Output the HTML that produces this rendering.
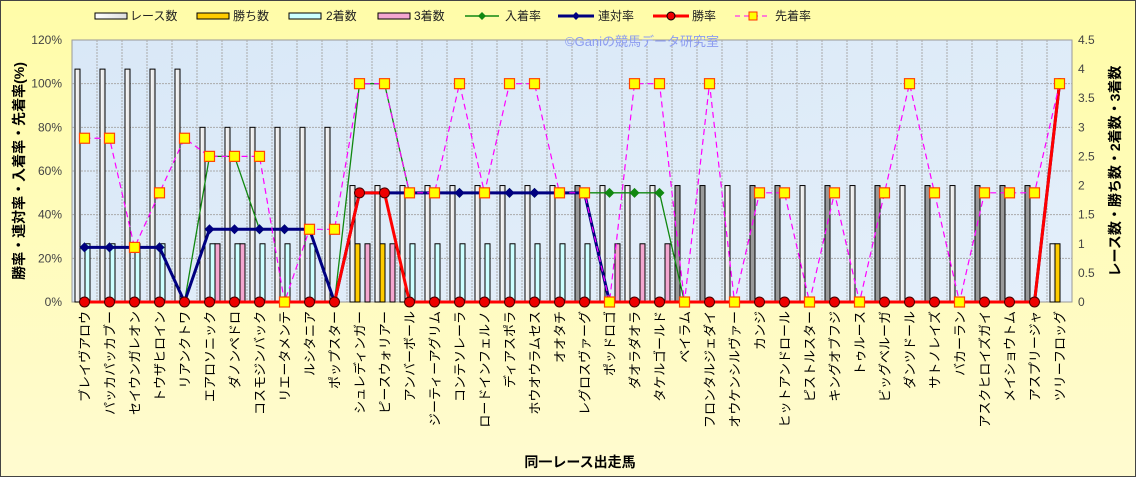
<!DOCTYPE html><html><head><meta charset="utf-8"><style>
html,body{margin:0;padding:0;background:#fff}
svg{display:block;font-family:"Liberation Sans","Noto Sans CJK JP",sans-serif}
</style></head><body>
<svg id="c" width="1136" height="477" xmlns="http://www.w3.org/2000/svg">
<defs>
<linearGradient id="bgY" x1="0" y1="0" x2="0" y2="1"><stop offset="0" stop-color="#fffca8"/><stop offset="1" stop-color="#fffbd0"/></linearGradient>
<linearGradient id="rb" x1="0" y1="0" x2="1" y2="0"><stop offset="0" stop-color="#fff"/><stop offset="1" stop-color="#ddd"/></linearGradient>
<linearGradient id="pl" x1="0" y1="0" x2="1" y2="1"><stop offset="0" stop-color="#d9e8f7"/><stop offset="1" stop-color="#e4effa"/></linearGradient>
</defs>
<rect x="0.5" y="0.5" width="1135" height="476" fill="url(#bgY)" stroke="#444" stroke-width="1"/>
<rect x="72" y="40" width="1000" height="262" fill="url(#pl)" stroke="#999"/>
<g id="grid"></g>
<g id="bars"></g>
<g id="lines"></g>
<g id="lab" font-size="12" fill="#000"></g>
<text x="565" y="46" font-size="13" fill="#8c9cf0">©Ganiの競馬データ研究室</text>
<text x="580" y="467" font-size="14" font-weight="bold" text-anchor="middle">同一レース出走馬</text>
<text transform="translate(24,171) rotate(-90)" font-size="14" font-weight="bold" text-anchor="middle">勝率・連対率・入着率・先着率(%)</text>
<text transform="translate(1120,171) rotate(-90)" font-size="14" font-weight="bold" text-anchor="middle">レース数・勝ち数・2着数・3着数</text>
<g font-size="12" fill="#222">
<rect x="95" y="13" width="32" height="6" fill="url(#rb)" stroke="#000"/><text x="130" y="20">レース数</text>
<rect x="197" y="13" width="32" height="6" fill="#ffcc00" stroke="#000"/><text x="233" y="20">勝ち数</text>
<rect x="289" y="13" width="32" height="6" fill="#ccffff" stroke="#000"/><text x="326" y="20">2着数</text>
<rect x="378" y="13" width="32" height="6" fill="#f4a6d0" stroke="#000"/><text x="414" y="20">3着数</text>
<line x1="465" y1="16" x2="499" y2="16" stroke="#118811" stroke-width="1.5"/><path d="M482 12l4 4-4 4-4-4z" fill="#118811"/><text x="505" y="20">入着率</text>
<line x1="558" y1="16" x2="594" y2="16" stroke="#000080" stroke-width="3"/><path d="M576 12l4 4-4 4-4-4z" fill="#000080"/><text x="598" y="20">連対率</text>
<line x1="653" y1="16" x2="689" y2="16" stroke="#ff0000" stroke-width="3"/><circle cx="671" cy="16" r="4" fill="#e00" stroke="#000"/><text x="692" y="20">勝率</text>
<line x1="735" y1="16" x2="771" y2="16" stroke="#ff00ff" stroke-width="1" stroke-dasharray="5,4"/><rect x="749" y="12" width="8" height="8" fill="#ff0" stroke="#f30"/><text x="775" y="20">先着率</text>
</g>
</svg>
<script>
const N=["ブレイヴアロウ","パッカパッカブー","セイウンガレオン","トウザヒロイン","リアンクトワ","エアロソニック","ダノンペドロ","コスモジンバック","リエータメンテ","ルシタニア","ポップスター","シュレディンガー","ピースウォリアー","アンバーボール","ジーティーアグリム","コンテソレーラ","ロードインフェルノ","ディアスポラ","ホウオウラムセス","オオタチ","レグロスヴァーグ","ポッドロゴ","ダオラダオラ","タケルゴールド","ベイラム","フロンタルジェダイ","オウケンシルヴァー","カンジ","ヒットアンドロール","ピストルスター","キングオブフジ","トゥルース","ビッグベルーガ","ダンツドール","サトノレイズ","バカーラン","アスクヒロイズガイ","メイショウトム","アスプリージャ","ツリーフロッグ"];
const D=[[4,0,1,0,25,25,0,75],[4,0,1,0,25,25,0,75],[4,0,1,0,25,25,0,25],[4,0,1,0,25,25,0,50],[4,0,0,0,0,0,0,75],
[3,0,1,1,66.7,33.3,0,66.7],[3,0,1,1,66.7,33.3,0,66.7],[3,0,1,0,33.3,33.3,0,66.7],[3,0,1,0,33.3,33.3,0,0],[3,0,1,0,33.3,33.3,0,33.3],[3,0,0,0,0,0,0,33.3],
[2,1,0,1,100,50,50,100],[2,1,0,1,100,50,50,100],[2,0,1,0,50,50,0,50],[2,0,1,0,50,50,0,50],[2,0,1,0,50,50,0,100],[2,0,1,0,50,50,0,50],[2,0,1,0,50,50,0,100],[2,0,1,0,50,50,0,100],[2,0,1,0,50,50,0,50],[2,0,1,0,50,50,0,50],
[2,0,0,1,50,0,0,0],[2,0,0,1,50,0,0,100],[2,0,0,1,50,0,0,100],[2,0,0,0,0,0,0,0],[2,0,0,0,0,0,0,100],[2,0,0,0,0,0,0,0],[2,0,0,0,0,0,0,50],[2,0,0,0,0,0,0,50],[2,0,0,0,0,0,0,0],[2,0,0,0,0,0,0,50],[2,0,0,0,0,0,0,0],[2,0,0,0,0,0,0,50],[2,0,0,0,0,0,0,100],[2,0,0,0,0,0,0,50],[2,0,0,0,0,0,0,0],[2,0,0,0,0,0,0,50],[2,0,0,0,0,0,0,50],[2,0,0,0,0,0,0,50],[1,1,0,0,100,100,100,100]];
const gray=new Set([20,24,25,27,28,30,32,34,36,37,38]);
const X=i=>84.5+25*i, Yp=p=>302-p*262/120, Yc=c=>302-c*262/4.5;
let s='';
for(let i=1;i<40;i++)s+=`<line x1="${72+25*i}" y1="40" x2="${72+25*i}" y2="302" stroke="#aaa" stroke-dasharray="2,1"/>`;
for(let k=1;k<6;k++)s+=`<line x1="72" y1="${Yp(20*k)}" x2="1072" y2="${Yp(20*k)}" stroke="#aaa" stroke-dasharray="2,1"/>`;
document.getElementById('grid').innerHTML=s;
s='';
const cols=[null,'#ffcc00','#ccffff','#f4a6d0'];
D.forEach((d,i)=>{const L=72+25*i;
 for(let j=0;j<4;j++){if(!d[j])continue;const y=Yc(d[j]);
  const f=j==0?(gray.has(i)?'#999':'url(#rb)'):cols[j];
  s+=`<rect x="${L+3+5*j}" y="${y}" width="5" height="${302-y}" fill="${f}" stroke="#000" stroke-width="1"/>`;}
});
document.getElementById('bars').innerHTML=s;
s='';
function pl(k,c,w,da){return `<polyline fill="none" stroke="${c}" stroke-width="${w}" ${da?'stroke-dasharray="'+da+'"':''} points="${D.map((d,i)=>X(i)+','+Yp(d[k])).join(' ')}"/>`;}
s+=pl(4,'#118811',1.3);D.forEach((d,i)=>{const x=X(i),y=Yp(d[4]);s+=`<path d="M${x} ${y-5}l5 5-5 5-5-5z" fill="#118811"/>`;});
s+=pl(5,'#000080',3);D.forEach((d,i)=>{const x=X(i),y=Yp(d[5]);s+=`<path d="M${x} ${y-5}l5 5-5 5-5-5z" fill="#000080"/>`;});
s+=pl(6,'#ff0000',3);D.forEach((d,i)=>{s+=`<circle cx="${X(i)}" cy="${Yp(d[6])}" r="5" fill="#e00" stroke="#400" stroke-width="1"/>`;});
s+=pl(7,'#ff00ff',1.2,'6,4');D.forEach((d,i)=>{s+=`<rect x="${X(i)-5}" y="${Yp(d[7])-5}" width="10" height="10" fill="#ff0" stroke="#f40" stroke-width="1.2"/>`;});
document.getElementById('lines').innerHTML=s;
s='';
for(let k=0;k<=6;k++)s+=`<text x="62" y="${Yp(20*k)+4}" text-anchor="end" fill="#444">${20*k}%</text>`;
for(let k=0;k<=9;k++)s+=`<text x="1078" y="${Yc(k/2)+4}" fill="#444">${k/2}</text>`;
N.forEach((n,i)=>{s+=`<text transform="translate(${X(i)+5},311) rotate(-90)" text-anchor="end" font-size="13">${n}</text>`;});
document.getElementById('lab').innerHTML=s;
</script>
</body></html>
